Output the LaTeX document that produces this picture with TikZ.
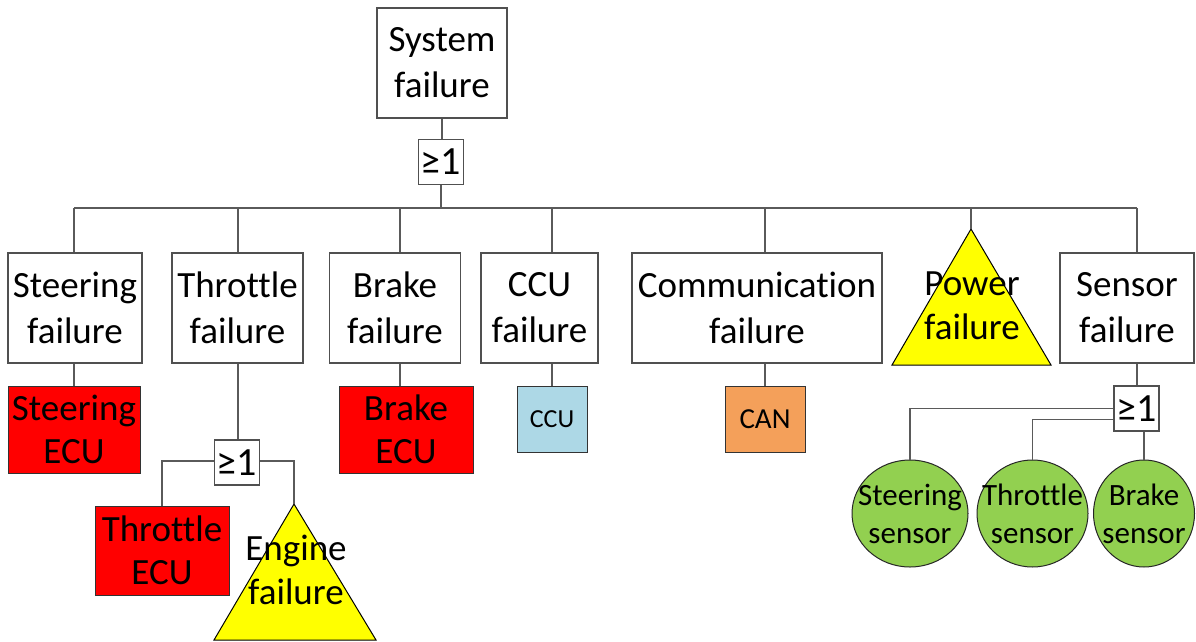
\documentclass[tikz,border=0pt]{standalone}
\usepackage{fontspec}
\setmainfont{Carlito}[Ligatures=CommonOff]
\usetikzlibrary{shapes.geometric}
\definecolor{linegray}{HTML}{5A5A5A}
\definecolor{boxline}{HTML}{505050}
\definecolor{ecured}{HTML}{FF0000}
\definecolor{eventyellow}{HTML}{FFFF00}
\definecolor{ccublue}{HTML}{ADD8E6}
\definecolor{canorange}{HTML}{F4A05A}
\definecolor{sensorgreen}{HTML}{92D050}
\begin{document}
\begin{tikzpicture}[x=1pt,y=-1pt,
  every node/.style={inner sep=0pt, align=center},
  conn/.style={draw=linegray, line width=1.3pt},
  box/.style={draw=boxline, line width=1.3pt, fill=white,
    font=\fontsize{37}{46}\selectfont},
  fbox/.style={box, minimum height=110pt},
  ecubox/.style={draw=black!80, line width=1pt, fill=ecured,
    minimum height=87pt, font=\fontsize{37}{43}\selectfont},
  smallbox/.style={draw=black!80, line width=1pt, minimum height=66pt},
  gate/.style={draw=boxline, line width=1.3pt, fill=white,
    minimum width=45pt, minimum height=45pt, font=\fontsize{40}{44}\selectfont},
  sensor/.style={ellipse, draw=black!85, line width=1pt, fill=sensorgreen,
    minimum height=107pt},
  sensortext/.style={font=\fontsize{31}{38}\selectfont},
  tri/.style={draw=black, line width=1pt, fill=eventyellow},
  tritext/.style={font=\fontsize{37}{44}\selectfont}]
\useasboundingbox (0,0) rectangle (1196,642);

% top event and its OR gate
\node[box, minimum width=130pt, minimum height=110pt] (sys) at (442,63) {System\\failure};
\node[gate] (g1) at (441,162) {≥1};

% attachment points on the horizontal bus
\coordinate (d1) at (74,208);
\coordinate (d2) at (238,208);
\coordinate (d3) at (400,208);
\coordinate (d4) at (552,208);
\coordinate (d5) at (765,208);
\coordinate (d6) at (971,208);
\coordinate (d7) at (1137,208);

% second level
\node[fbox, minimum width=134pt] (stf) at (75,308) {Steering\\failure};
\node[fbox, minimum width=131pt] (thf) at (237.5,308) {Throttle\\failure};
\node[fbox, minimum width=131pt] (brf) at (395,308) {Brake\\failure};
\node[fbox, minimum width=117pt] (ccf) at (539.5,308) {CCU\\failure};
\node[fbox, minimum width=250pt] (cmf) at (757,308) {Communication\\failure};
\node[fbox, minimum width=134pt] (snf) at (1127,308) {Sensor\\failure};

% power failure event
\coordinate (pwtop) at (971,229);
\coordinate (pwr) at (1051,365);
\coordinate (pwl) at (892,365);
\path[tri] (pwtop) -- (pwr) -- (pwl) -- cycle;
\node[tritext] (pwt) at (972,306) {Power\\failure};

% third level
\node[ecubox, minimum width=132pt] (stecu) at (74,429.5) {Steering\\ECU};
\node[gate] (g2) at (237,462.5) {≥1};
\node[ecubox, minimum width=134pt] (brecu) at (406,429.5) {Brake\\ECU};
\node[smallbox, fill=ccublue, minimum width=70pt, font=\fontsize{26}{30}\selectfont] (ccu) at (552,419.5) {CCU};
\node[smallbox, fill=canorange, minimum width=80pt, font=\fontsize{29}{34}\selectfont] (can) at (765,419) {CAN};
\node[gate] (g3) at (1136.5,408.5) {≥1};

% fourth level
\node[ecubox, minimum width=134pt, minimum height=89pt] (thecu) at (162,550.5) {Throttle\\ECU};
\coordinate (entop) at (294,504);
\coordinate (enr) at (376,640);
\coordinate (enl) at (214,640);
\path[tri] (entop) -- (enr) -- (enl) -- cycle;
\node[tritext] (ent) at (296,570) {Engine\\failure};

% basic sensor events: outline first, label on top
\node[sensor, minimum width=116pt] (ss) at (910,513.5) {};
\node[sensortext] (sst) at (ss) {Steering\\sensor};
\node[sensor, minimum width=111pt] (ts) at (1032.5,513.5) {};
\node[sensortext] (tst) at (ts) {Throttle\\sensor};
\node[sensor, minimum width=101pt] (bs) at (1144,513.5) {};
\node[sensortext] (bst) at (bs) {Brake\\sensor};

% connectors
\draw[conn] (sys.south) -- (sys.south |- g1.north);
\draw[conn] (g1.south) -- (g1.south |- d1);
\draw[conn] (d1) -- (d7);
\draw[conn] (d1) -- (d1 |- stf.north);
\draw[conn] (d2) -- (d2 |- thf.north);
\draw[conn] (d3) -- (d3 |- brf.north);
\draw[conn] (d4) -- (d4 |- ccf.north);
\draw[conn] (d5) -- (d5 |- cmf.north);
\draw[conn] (d6) -- (pwtop);
\draw[conn] (d7) -- (d7 |- snf.north);

\draw[conn] (d1 |- stf.south) -- (stecu.north);
\draw[conn] (d2 |- thf.south) -- (d2 |- g2.north);
\draw[conn] (d3 |- brf.south) -- (d3 |- brecu.north);
\draw[conn] (d4 |- ccf.south) -- (ccu.north);
\draw[conn] (d5 |- cmf.south) -- (can.north);
\draw[conn] (d7 |- snf.south) -- (d7 |- g3.north);

\draw[conn] ([yshift=1.5pt]g2.west) -| (thecu.north);
\draw[conn] ([yshift=1.5pt]g2.east) -| (entop);

\draw[conn] (g3.west) -| (ss.north);
\draw[conn] ([yshift=-11pt]g3.west) -| (ts.north);
\draw[conn] (bs.north |- g3.south) -- (bs.north);
\end{tikzpicture}
\end{document}
